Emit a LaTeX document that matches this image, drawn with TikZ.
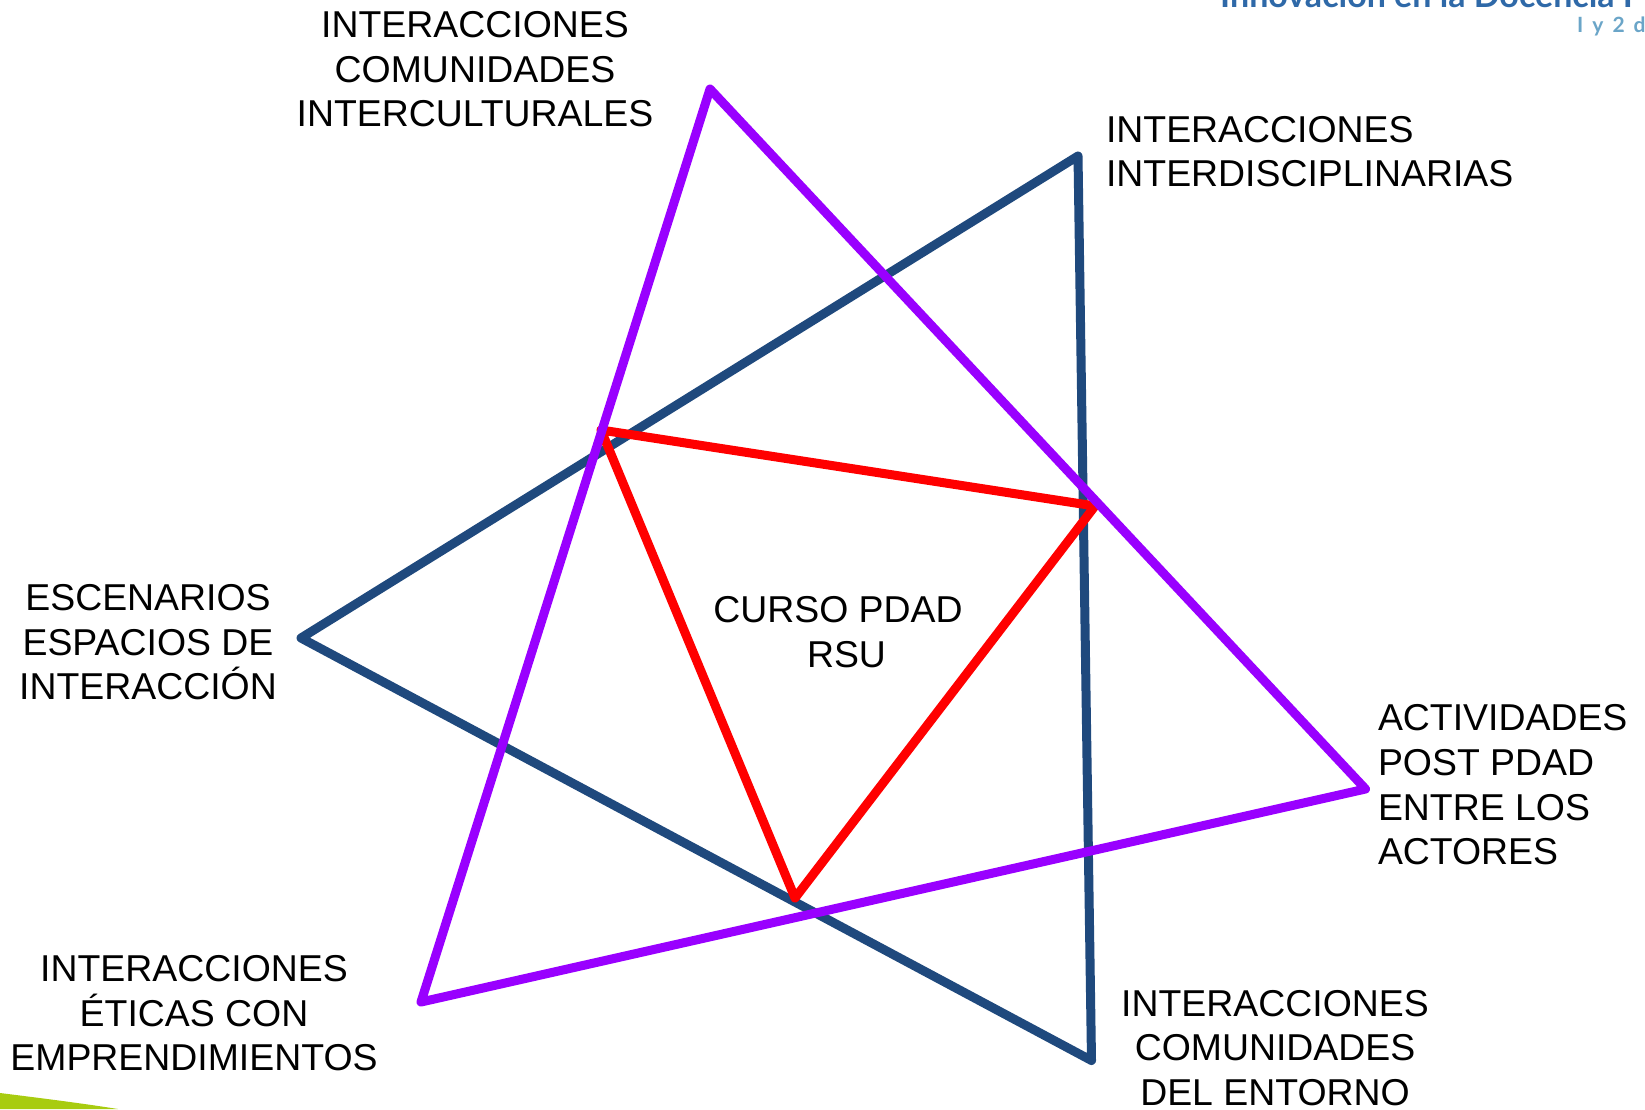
\documentclass[tikz,border=0pt]{standalone}
\usepackage{fontspec}
\setmainfont{Liberation Sans}
\newfontfamily\headfont{Lato}
\definecolor{tripurple}{HTML}{9900FF}
\definecolor{triblue}{HTML}{1F497D}
\definecolor{trired}{HTML}{FF0000}
\definecolor{headblue}{HTML}{2F69A8}
\definecolor{headlight}{HTML}{6AA5C8}
\definecolor{swoosh}{HTML}{A8CC10}
\tikzset{
  tri/.style={line width=9pt,line join=round,line cap=round},
  lab/.style={inner sep=0pt,outer sep=0pt,text=black,font=\fontsize{37.4}{44.6}\selectfont},
}
\begin{document}
\begin{tikzpicture}[x=1pt,y=-1pt]
\useasboundingbox (0,0) rectangle (1645,1109);
\begin{scope}
\clip (0,0) rectangle (1645,1109);
\fill[white] (0,0) rectangle (1645,1109);
\node[anchor=base west,inner sep=0pt,text=headblue,font=\headfont\bfseries\fontsize{34}{34}\selectfont] (hdr1) at (1220,7) {Innovación en la Docencia P};
\node[anchor=base west,inner sep=0pt,text=headlight,font=\headfont\bfseries\fontsize{21}{21}\selectfont] (hdr2) at (1577,32) {\spaceskip=9pt I y 2 de};
\fill[swoosh] (0,1093) .. controls (40,1098) and (80,1103) .. (118,1109) -- (0,1109) -- cycle;
\end{scope}
% vertices
\coordinate (pa) at (710,89);
\coordinate (pb) at (1365.5,789);
\coordinate (pc) at (421,1002);
\coordinate (ba) at (1078,156);
\coordinate (bb) at (1091.5,1060.5);
\coordinate (bc) at (301,638);
\coordinate (ra) at (601,430);
\coordinate (rb) at (1095,506);
\coordinate (rc) at (795,898);
\draw[tri,triblue] (ba) -- (bb) -- (bc) -- cycle;
\draw[tri,trired] (ra) -- (rb) -- (rc) -- cycle;
\draw[tri,tripurple] (pa) -- (pb) -- (pc) -- cycle;
% labels
\node[lab,align=center] (l1) at (475,69.5) {INTERACCIONES\\COMUNIDADES\\INTERCULTURALES};
\node[lab,align=left,anchor=west] (l2) at (1106,151.5) {INTERACCIONES\\INTERDISCIPLINARIAS};
\node[lab,align=center] (l3) at (148,642.5) {ESCENARIOS\\ESPACIOS DE\\INTERACCIÓN};
\node[lab,align=center] (l4) at (838,632) {CURSO PDAD\\\hspace*{17pt}RSU};
\node[lab,align=left,anchor=west] (l5) at (1378,785) {ACTIVIDADES\\POST PDAD\\ENTRE LOS\\ACTORES};
\node[lab,align=center] (l6) at (194,1013.5) {INTERACCIONES\\ÉTICAS CON\\EMPRENDIMIENTOS};
\node[lab,align=center] (l7) at (1275,1048) {INTERACCIONES\\COMUNIDADES\\DEL ENTORNO};
\end{tikzpicture}
\end{document}
